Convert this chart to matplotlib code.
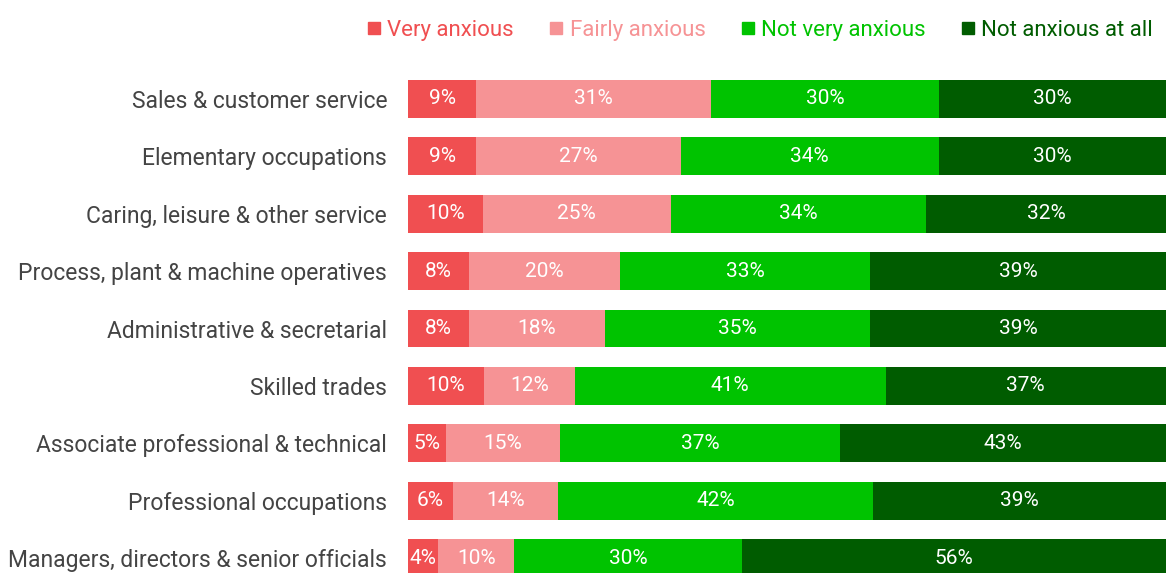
import matplotlib
matplotlib.use("Agg")
import matplotlib.pyplot as plt
from matplotlib.lines import Line2D
import numpy as np

categories = [
    "Sales & customer service",
    "Elementary occupations",
    "Caring, leisure & other service",
    "Process, plant & machine operatives",
    "Administrative & secretarial",
    "Skilled trades",
    "Associate professional & technical",
    "Professional occupations",
    "Managers, directors & senior officials",
]
series_names = ["Very anxious", "Fairly anxious", "Not very anxious", "Not anxious at all"]
very_anxious = [9, 9, 10, 8, 8, 10, 5, 6, 4]
fairly_anxious = [31, 27, 25, 20, 18, 12, 15, 14, 10]
not_very_anxious = [30, 34, 34, 33, 35, 41, 37, 42, 30]
not_anxious_at_all = [30, 30, 32, 39, 39, 37, 43, 39, 56]
colors = ["#F04F51", "#F69395", "#00C300", "#005C00"]

plt.rcParams['font.family'] = ['Roboto', 'DejaVu Sans']

data = np.array([very_anxious, fairly_anxious, not_very_anxious, not_anxious_at_all], dtype=float)
totals = data.sum(axis=0)
shares = data / totals * 100

fig = plt.figure(figsize=(11.66, 5.73), dpi=100)
ax = fig.add_axes([408 / 1166, 1 - 586.7 / 573, 758 / 1166, (586.7 - 70.3) / 573])

y = np.arange(len(categories))
left = np.zeros(len(categories))
for i in range(4):
    ax.barh(y, shares[i], left=left, height=0.66, color=colors[i], edgecolor='none')
    for j in range(len(categories)):
        ax.text(left[j] + shares[i][j] / 2, y[j], f"{int(data[i][j])}%",
                ha='center', va='center', color='white', fontsize=15)
    left += shares[i]

ax.set_xlim(0, 100)
ax.set_ylim(len(categories) - 0.5, -0.5)
ax.set_yticks(y)
ax.set_yticklabels(categories, fontsize=16.5, color='#444444')
ax.tick_params(axis='y', length=0, pad=15)
ax.set_xticks([])
for s in ax.spines.values():
    s.set_visible(False)

handles = [Line2D([], [], marker='s', linestyle='none', markersize=9,
                  markerfacecolor=c, markeredgecolor=c) for c in colors]
fig.legend(handles, series_names, loc='upper right', bbox_to_anchor=(1.006, 1.0),
           ncol=4, frameon=False, labelcolor=colors,
           handletextpad=0.1, columnspacing=1.4, handlelength=1.0,
           prop={'size': 16})

fig.savefig("out.png", dpi=100)
